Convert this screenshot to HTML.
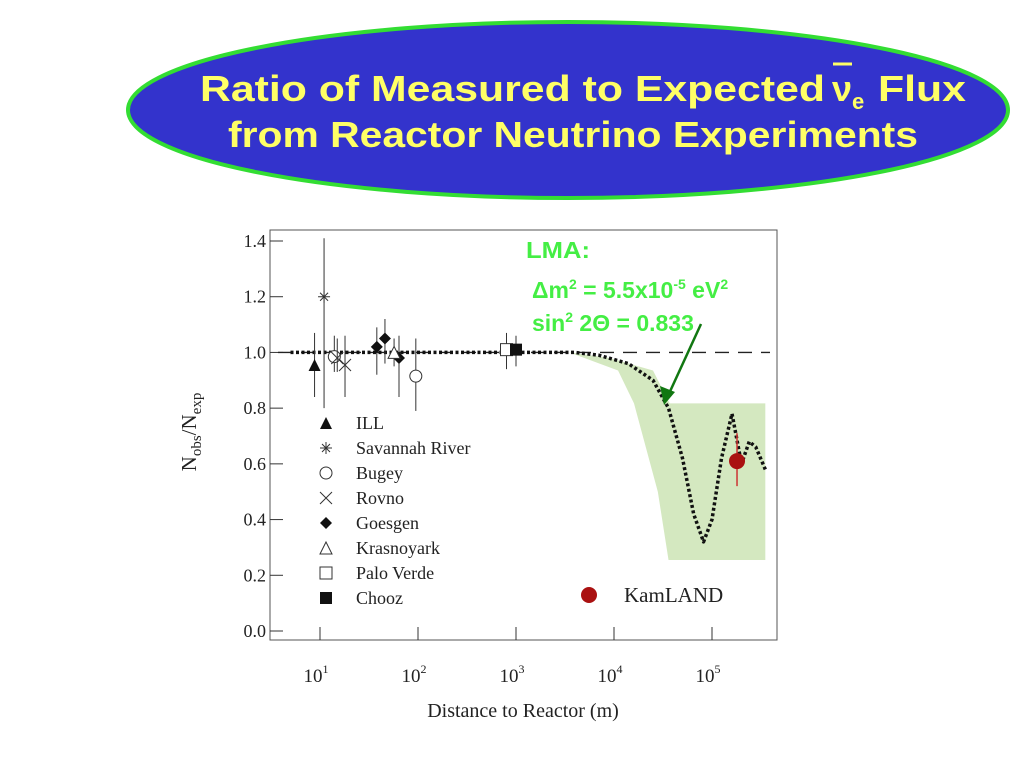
<!DOCTYPE html>
<html><head><meta charset="utf-8"><style>
body{margin:0;background:#fff;width:1024px;height:768px;overflow:hidden}
svg{display:block}
</style></head><body>
<svg id="chart" width="1024" height="768" xmlns="http://www.w3.org/2000/svg">
<g>
<ellipse cx="568" cy="110" rx="440" ry="88" fill="#3333cc" stroke="#33dd33" stroke-width="4"/>
<text x="200" y="101" font-family="Liberation Sans, sans-serif" font-weight="bold" font-size="36" fill="#ffff66"><tspan textLength="625" lengthAdjust="spacingAndGlyphs">Ratio of Measured to Expected</tspan><tspan x="832">ν</tspan><tspan font-size="22" dy="8">e</tspan><tspan dy="-8" x="878" textLength="88" lengthAdjust="spacingAndGlyphs">Flux</tspan></text>
<line x1="833" y1="64" x2="852" y2="64" stroke="#ffff66" stroke-width="3"/>
<text x="228" y="147" font-family="Liberation Sans, sans-serif" font-weight="bold" font-size="36" fill="#ffff66" textLength="690" lengthAdjust="spacingAndGlyphs">from Reactor Neutrino Experiments</text>
</g>
<g id="plot"></g>
</svg>
<script>
const yTicks=[0,0.2,0.4,0.6,0.8,1.0,1.2,1.4];
const xTickExp=[1,2,3,4,5];
const experiments=["ILL","Savannah River","Bugey","Rovno","Goesgen","Krasnoyark","Palo Verde","Chooz"];
const ptExp=["ILL","Savannah River","Bugey","Bugey","Rovno","Rovno","Goesgen","Goesgen","Goesgen","Krasnoyark","Palo Verde","Chooz"];
const ptDist=[8.8,11,14,95,18,15,38,46,64,57,800,1000];
const ptRatio=[0.955,1.2,0.985,0.915,0.955,0.98,1.02,1.05,0.98,1.0,1.01,1.01];
const ptErrLo=[0.84,0.80,0.93,0.79,0.84,0.93,0.92,0.96,0.84,0.95,0.94,0.95];
const ptErrHi=[1.07,1.41,1.06,1.05,1.06,1.05,1.09,1.12,1.06,1.05,1.07,1.06];
const kamDist=[180000];const kamRatio=[0.61];const kamLo=[0.52];const kamHi=[0.71];
const curveDist=[5,100,1000,4000,7000,14000,25000,36000,50000,65000,82000,100000,125000,160000,200000,240000,280000,350000];
const curveRatio=[1,1,1,1,0.99,0.96,0.90,0.80,0.62,0.42,0.32,0.40,0.62,0.78,0.60,0.68,0.66,0.58];
const bandDist=[3500,9000,25000,37000,350000,350000,36000,28000,16000,11000,3500];
const bandRatio=[1.0,0.98,0.935,0.817,0.817,0.255,0.255,0.50,0.817,0.935,1.0];

const NS="http://www.w3.org/2000/svg";
const g=document.getElementById('plot');
const X=d=>320+(Math.log10(d)-1)*98;
const Y=v=>631-v*(390/1.4);
function mk(t,a,p){const e=document.createElementNS(NS,t);for(const k in a)e.setAttribute(k,a[k]);(p||g).appendChild(e);return e;}
const F="Liberation Serif, serif";
let fr=mk('rect',{x:270,y:230,width:507,height:410,fill:'none',stroke:'#555','stroke-width':1});


yTicks.forEach(v=>{mk('line',{x1:270,x2:283,y1:Y(v),y2:Y(v),stroke:'#333'});
let t=mk('text',{x:266,y:Y(v)+6,'text-anchor':'end','font-family':F,'font-size':18,fill:'#222'});t.textContent=v.toFixed(1);

});
xTickExp.forEach(e=>{const x=X(Math.pow(10,e));mk('line',{x1:x,x2:x,y1:627,y2:640,stroke:'#333'});
let t=mk('text',{x:x-4,y:682,'text-anchor':'middle','font-family':F,'font-size':19,fill:'#222'});t.innerHTML='10<tspan dy="-9" font-size="12">'+e+'</tspan>';

});
let xl=mk('text',{x:523,y:717,'text-anchor':'middle','font-family':F,'font-size':20,fill:'#222'});xl.textContent='Distance to Reactor (m)';


let yl=mk('text',{x:0,y:0,'text-anchor':'middle','font-family':F,'font-size':21,fill:'#222',transform:'translate(196,432) rotate(-90)'});yl.innerHTML='N<tspan font-size="15" dy="5">obs</tspan><tspan dy="-5">/N</tspan><tspan font-size="15" dy="5">exp</tspan>';


let bp=mk('polygon',{points:bandDist.map((d,i)=>X(d)+','+Y(bandRatio[i])).join(' '),fill:'#d4e8c0'});


let ref=mk('line',{x1:278,x2:770,y1:Y(1),y2:Y(1),stroke:'#222','stroke-width':1.3,'stroke-dasharray':'14,9'});


let cv=mk('polyline',{points:curveDist.map((d,i)=>X(d)+','+Y(curveRatio[i])).join(' '),fill:'none',stroke:'#111','stroke-width':3.5,'stroke-dasharray':'3,2.5','stroke-linejoin':'round'});


function marker(type,x,y,p){const s=6;
 if(type==='ILL')mk('polygon',{points:`${x},${y-s} ${x-s},${y+s} ${x+s},${y+s}`,fill:'#111'},p);
 else if(type==='Krasnoyark')mk('polygon',{points:`${x},${y-s} ${x-s},${y+s} ${x+s},${y+s}`,fill:'#fff',stroke:'#333'},p);
 else if(type==='Bugey')mk('circle',{cx:x,cy:y,r:s,fill:'#fff',stroke:'#333'},p);
 else if(type==='Rovno'){mk('path',{d:`M${x-s} ${y-s}L${x+s} ${y+s}M${x+s} ${y-s}L${x-s} ${y+s}`,stroke:'#333'},p);}
 else if(type==='Savannah River'){mk('path',{d:`M${x-s} ${y}L${x+s} ${y}M${x} ${y-s}L${x} ${y+s}M${x-4} ${y-4}L${x+4} ${y+4}M${x+4} ${y-4}L${x-4} ${y+4}`,stroke:'#333'},p);}
 else if(type==='Goesgen')mk('polygon',{points:`${x},${y-s} ${x+s},${y} ${x},${y+s} ${x-s},${y}`,fill:'#111'},p);
 else if(type==='Palo Verde')mk('rect',{x:x-s,y:y-s,width:2*s,height:2*s,fill:'#fff',stroke:'#333'},p);
 else if(type==='Chooz')mk('rect',{x:x-s,y:y-s,width:2*s,height:2*s,fill:'#111'},p);}
ptDist.forEach((d,i)=>{const pg=mk('g',{});


mk('line',{x1:X(d),x2:X(d),y1:Y(ptErrLo[i]),y2:Y(ptErrHi[i]),stroke:'#333'},pg);
marker(ptExp[i],X(d),Y(ptRatio[i]),pg);});
kamDist.forEach((d,i)=>{const pg=mk('g',{});


mk('line',{x1:X(d),x2:X(d),y1:Y(kamLo[i]),y2:Y(kamHi[i]),stroke:'#cc3333','stroke-width':1.5},pg);
mk('circle',{cx:X(d),cy:Y(kamRatio[i]),r:8,fill:'#aa1111'},pg);});
experiments.forEach((n,i)=>{const y=423+i*25;const lg=mk('g',{});


marker(n,326,y,lg);let t=mk('text',{x:356,y:y+6,'font-family':F,'font-size':18,fill:'#222'},lg);t.textContent=n;});
const kg=mk('g',{});


mk('circle',{cx:589,cy:595,r:8,fill:'#aa1111'},kg);
let kt=mk('text',{x:624,y:602,'font-family':F,'font-size':21,fill:'#222'},kg);kt.textContent='KamLAND';
const ag=mk('g',{'font-family':'Liberation Sans, sans-serif','font-weight':'bold','font-size':23,fill:'#44ee44'});


mk('text',{x:526,y:258,textLength:64,lengthAdjust:'spacingAndGlyphs'},ag).textContent='LMA:';
mk('text',{x:532,y:298},ag).innerHTML='Δm<tspan font-size="14" dy="-9">2</tspan><tspan dy="9"> = 5.5x10</tspan><tspan font-size="14" dy="-9">-5</tspan><tspan dy="9"> eV</tspan><tspan font-size="14" dy="-9">2</tspan>';
mk('text',{x:532,y:331},ag).innerHTML='sin<tspan font-size="14" dy="-9">2</tspan><tspan dy="9"> 2Θ = 0.833</tspan>';
const ar=mk('g',{});


mk('line',{x1:701,y1:324,x2:667,y2:398,stroke:'#117711','stroke-width':2.5},ar);
mk('polygon',{points:'664,405 660,386 675,392',fill:'#117711'},ar);
</script>
</body></html>
